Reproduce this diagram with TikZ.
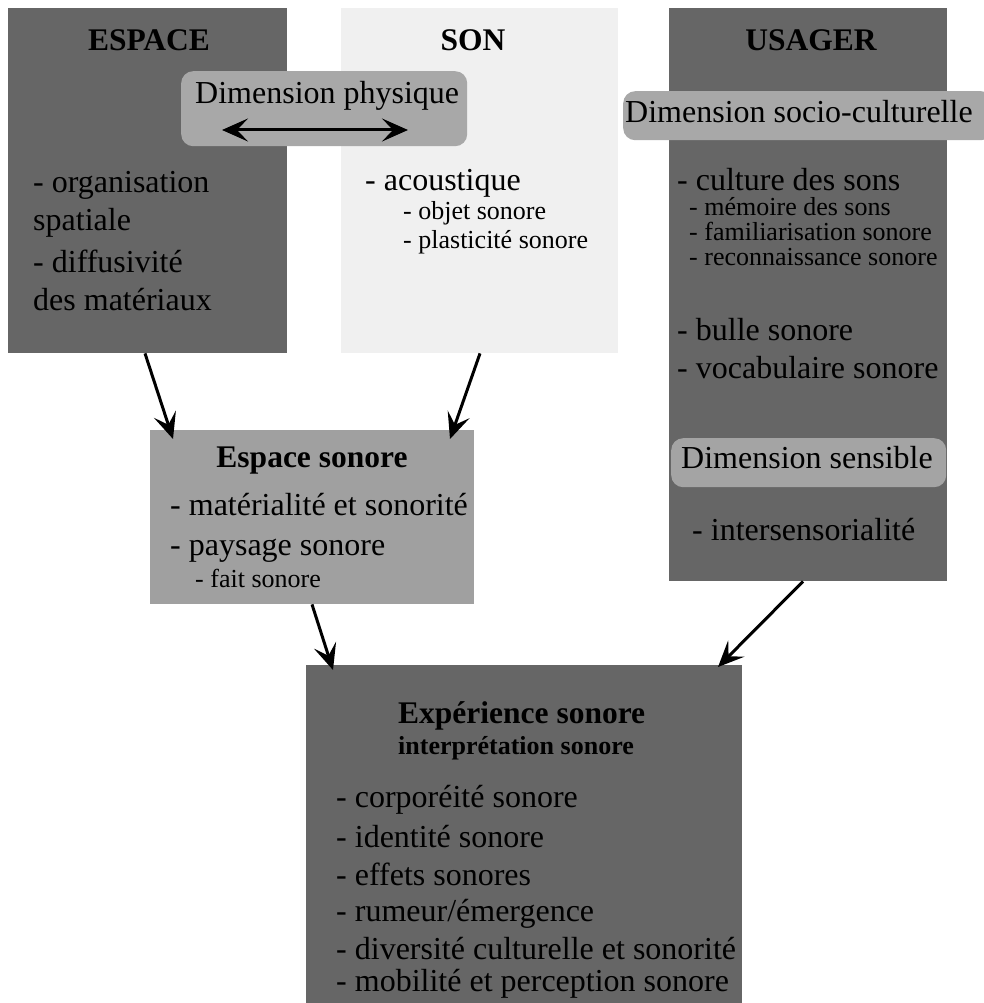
\documentclass[tikz,border=0pt]{standalone}
\usepackage{fontspec}
\setmainfont{Liberation Serif}
\usetikzlibrary{arrows.meta}
\definecolor{boxdark}{HTML}{666666}
\definecolor{boxlight}{HTML}{F0F0F0}
\definecolor{dimgray}{HTML}{A8A8A8}
\definecolor{midgray}{HTML}{A0A0A0}
\begin{document}
\begin{tikzpicture}[x=1pt,y=-1pt,
  box/.style={draw=none, inner sep=0pt, anchor=north west},
  dark/.style={box, fill=boxdark},
  dimbox/.style={box, fill=dimgray, rounded corners=12pt},
  txt/.style={inner sep=0pt, anchor=base west, font=\fontsize{32}{38}\selectfont},
  smalltxt/.style={inner sep=0pt, anchor=base west, font=\fontsize{26}{30}\selectfont},
  ttl/.style={inner sep=0pt, anchor=base, font=\fontsize{31.5}{36}\selectfont\bfseries},
  conn/.style={line width=3pt, -{Stealth[length=26pt,width=23pt,inset=11pt]}},
  dbl/.style={line width=3pt, {Stealth[length=26pt,width=23pt,inset=11pt]}-{Stealth[length=26pt,width=23pt,inset=11pt]}},
]
\useasboundingbox[fill=white] (0,0) rectangle (983,1003);

% main boxes
\node[dark, minimum width=279pt, minimum height=345pt] (espace) at (8,8) {};
\node[box, fill=boxlight, minimum width=277pt, minimum height=345pt] (son) at (341,8) {};
\node[dark, minimum width=278pt, minimum height=573pt] (usager) at (669,8) {};
\node[box, fill=midgray, minimum width=324pt, minimum height=174pt] (esonore) at (150,430) {};
\node[dark, minimum width=436pt, minimum height=345pt] (experience) at (306,665) {};

% dimension boxes
\node[dimbox, minimum width=286pt, minimum height=75pt] (physique) at (181,71) {};
\node[dimbox, minimum width=370pt, minimum height=49pt] (socio) at (623,91) {};
\node[dimbox, fill=dimgray!105, minimum width=275pt, minimum height=49pt] (sensible) at (671,438) {};

% titles
\node[ttl] (tespace) at (149,51) {ESPACE};
\node[ttl] (tson) at (473,51) {SON};
\node[ttl] (tusager) at (811,51) {USAGER};

% dimension labels
\node[txt] (lphys) at (195,104) {Dimension physique};
\node[txt] (lsocio) at (625,123) {Dimension socio-culturelle};
\node[txt] (lsens) at (681,468) {Dimension sensible};

% ESPACE text
\node[txt] (e1) at (33,193) {- organisation};
\node[txt] (e2) at (33,230) {spatiale};
\node[txt] (e3) at (33,272) {- diffusivité};
\node[txt] (e4) at (33,310) {des matériaux};

% SON text
\node[txt] (s1) at (365,190) {- acoustique};
\node[smalltxt] (s2) at (403,219) {- objet sonore};
\node[smalltxt] (s3) at (403,248) {- plasticité sonore};

% USAGER text
\node[txt] (u1) at (677,190) {- culture des sons};
\node[smalltxt] (u2) at (689,215) {- mémoire des sons};
\node[smalltxt] (u3) at (689,240) {- familiarisation sonore};
\node[smalltxt] (u4) at (689,265) {- reconnaissance sonore};
\node[txt] (u5) at (677,340) {- bulle sonore};
\node[txt] (u6) at (677,378) {- vocabulaire sonore};
\node[txt] (u7) at (692,540) {- intersensorialité};

% Espace sonore text
\node[ttl] (tes) at (312,467) {Espace sonore};
\node[txt] (es1) at (170,515) {- matérialité et sonorité};
\node[txt] (es2) at (170,555) {- paysage sonore};
\node[smalltxt] (es3) at (195,587) {- fait sonore};

% Experience sonore text
\node[ttl, anchor=base west] (tex) at (398,723) {Expérience sonore};
\node[smalltxt, font=\fontsize{26}{30}\selectfont\bfseries] (tex2) at (398,754) {interprétation sonore};
\node[txt] (x1) at (336,807) {- corporéité sonore};
\node[txt] (x2) at (336,847) {- identité sonore};
\node[txt] (x3) at (336,885) {- effets sonores};
\node[txt] (x4) at (336,921) {- rumeur/émergence};
\node[txt] (x5) at (336,959) {- diversité culturelle et sonorité};
\node[txt] (x6) at (336,991) {- mobilité et perception sonore};

% connectors
\coordinate (pl) at (222,130);
\coordinate (pr) at (408,130);
\draw[dbl] (pl) -- (pr);

\draw[conn] ([xshift=137pt]espace.south west) -- ([xshift=23pt,yshift=-9pt]esonore.north west);
\draw[conn] ([xshift=139pt]son.south west) -- ([xshift=300pt,yshift=-9pt]esonore.north west);
\draw[conn] ([xshift=162pt]esonore.south west) -- ([xshift=27pt,yshift=-5pt]experience.north west);
\draw[conn] ([xshift=134pt]usager.south west) -- ([xshift=412pt,yshift=-2pt]experience.north west);
\end{tikzpicture}
\end{document}
